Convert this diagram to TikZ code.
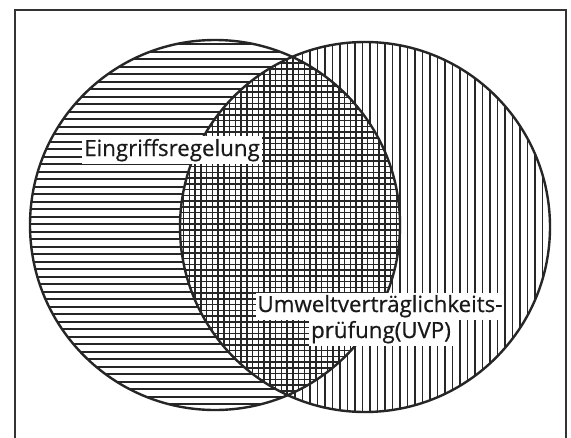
\documentclass[tikz,border=0pt]{standalone}
\usepackage{fontspec}
\setmainfont{Open Sans}
\newfontfamily\lblfont{Open Sans}[FakeBold=0.6]
\begin{document}
\begin{tikzpicture}[x=1pt,y=-1pt,
  hatch/.style={line width=1.7pt,black!85},
  gridhatch/.style={line width=1.5pt,black!85},
  outline/.style={line width=2.4pt,black!85},
  frameline/.style={line width=1.8pt,black!80},
  lbl/.style={fill=white,inner xsep=2pt,inner ysep=2.5pt,font=\lblfont\fontsize{22.3}{26}\selectfont,anchor=base,text=black!90}]
\useasboundingbox (0,0) rectangle (571,437);
\fill[white] (0,0) rectangle (571,437);
\coordinate (cL) at (215,225);
\coordinate (cR) at (365,227);
\coordinate (f1) at (15,440);
\coordinate (f2) at (15,10);
\coordinate (f3) at (566,10);
\coordinate (f4) at (566,440);
\draw[frameline] (f1) -- (f2) -- (f3) -- (f4);
% left circle: horizontal hatching
\begin{scope}
  \clip (cL) circle (185);
  \foreach \k in {0,...,50} \draw[hatch] (20,{44.2+7.5*\k}) -- (410,{44.2+7.5*\k});
\end{scope}
% right circle: vertical hatching
\begin{scope}
  \clip (cR) circle (185);
  \fill[white] (170,30) rectangle (560,420);
  \foreach \k in {0,...,52} \draw[hatch] ({167.5+7.5*\k},35) -- ({167.5+7.5*\k},420);
\end{scope}
% intersection: cross hatching
\begin{scope}
  \clip (cL) circle (185);
  \clip (cR) circle (185);
  \fill[white] (170,30) rectangle (410,420);
  \foreach \k in {0,...,44} \draw[gridhatch] ({172+5.75*\k},35) -- ({172+5.75*\k},420);
  \foreach \k in {0,...,66} \draw[gridhatch] (170,{40+5.75*\k}) -- (410,{40+5.75*\k});
\end{scope}
\draw[outline] (cL) circle (185);
\draw[outline] (cR) circle (185);
\node[lbl] (eing) at (172,156) {Eingriffsregelung};
\node[lbl] (uvp1) at (380,312) {Umweltverträglichkeits-};
\node[lbl] (uvp2) at (381,338) {prüfung(UVP)};
\end{tikzpicture}
\end{document}
